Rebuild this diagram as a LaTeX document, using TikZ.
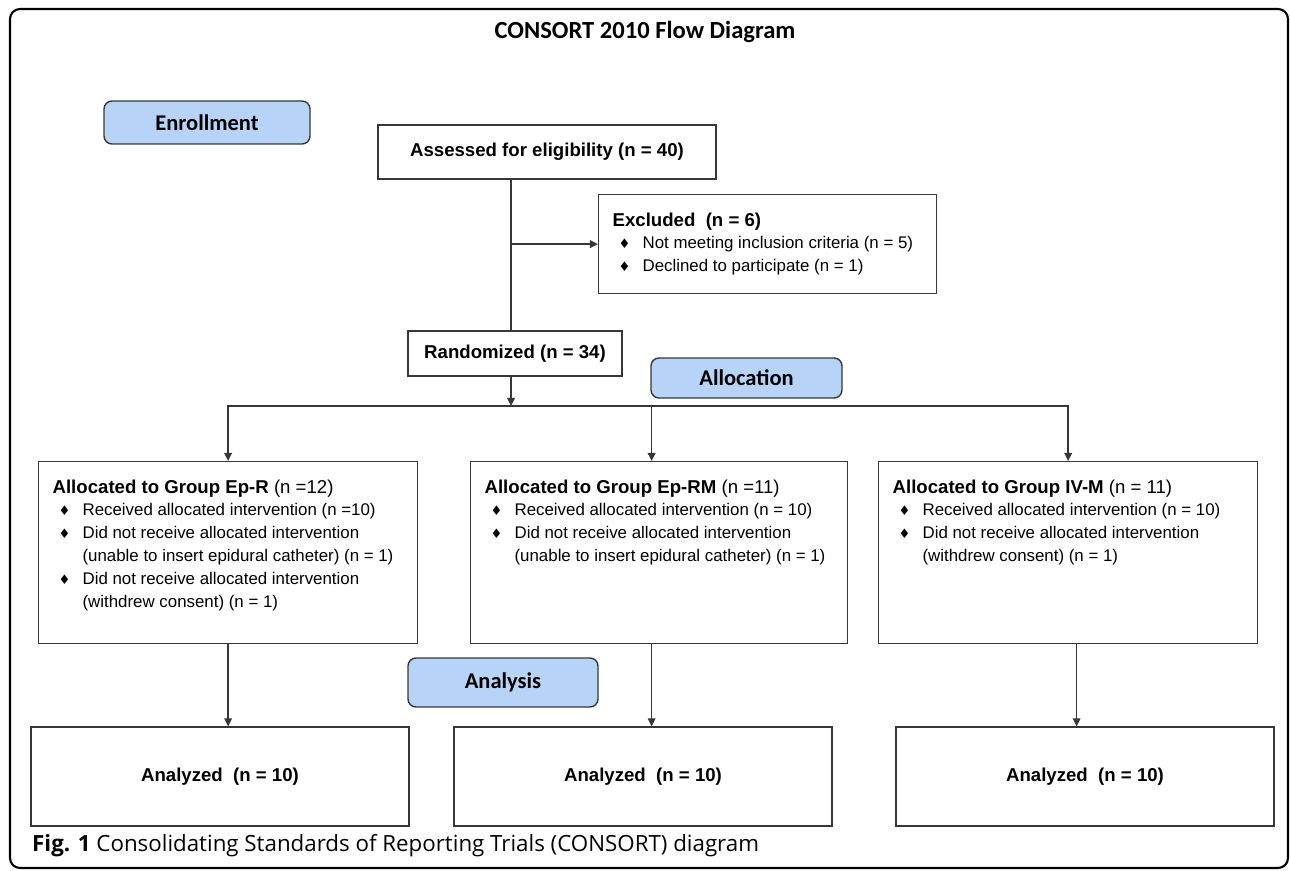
\documentclass[tikz,border=0pt]{standalone}
\usepackage{fontspec}
\setmainfont{Liberation Sans}
\newfontfamily\phasefont{Carlito}
\newfontfamily\capfont{Open Sans}
\newfontfamily\symfont{DejaVu Sans}
\usetikzlibrary{arrows.meta}

\newlength\px
\setlength\px{0.02cm}
\definecolor{phaseblue}{RGB}{184,211,248}
\definecolor{boxline}{RGB}{55,55,55}

% bullet line with hanging indent
\newcommand\itm{\par\hangindent=30\px\hangafter=1\noindent\hspace*{6\px}\makebox[24\px][l]{\symfont\fontsize{7.5}{7.5}\selectfont\char"2666}}
\newcommand\headsize{\fontsize{10.6}{13}\selectfont}
\newcommand\boxtext[3]{\parbox[c][#2][t]{#1}{\raggedright\leftskip=14\px\fontsize{9.6}{13}\selectfont\vspace*{10.2pt}#3}}

\begin{document}
\begin{tikzpicture}[
  x=0.02cm, y=-0.02cm,
  phase/.style={draw=boxline, fill=phaseblue, rounded corners=0.16cm, line width=0.8pt, inner sep=0pt,
    font=\phasefont\bfseries\fontsize{12.8}{14}\selectfont},
  plainbox/.style={draw=boxline, line width=0.7pt, inner sep=0pt, font=\bfseries\headsize},
  listbox/.style={draw=boxline, line width=0.7pt, inner sep=0pt, anchor=north west},
  arrow/.style={-{Triangle[length=4.6pt,width=4.4pt]}, draw=boxline, line width=0.75pt},
  link/.style={draw=boxline, line width=0.75pt}
]
\useasboundingbox (0,0) rectangle (1290,871);
\draw[line width=1.2pt, rounded corners=0.2cm] (10,9) rectangle (1288,868);

\node[font=\phasefont\bfseries\fontsize{14}{16}\selectfont] (title) at (645,32) {CONSORT 2010 Flow Diagram};

% phase labels
\node[phase, minimum width=206\px, minimum height=43\px] (enroll) at (207,122.5) {Enrollment};
\node[phase, minimum width=191\px, minimum height=40\px] (alloc) at (746.5,378) {Allocation};
\node[phase, minimum width=190\px, minimum height=49\px] (analysis) at (503,682.5) {Analysis};

% enrollment
\node[plainbox, minimum width=338\px, minimum height=54\px] (assess) at (547,152) {Assessed for eligibility (n = 40)};
\node[listbox] (excl) at (598,194) {\boxtext{338\px}{99\px}{\noindent{\headsize\bfseries Excluded~ (n = 6)}
  \itm Not meeting inclusion criteria (n = 5)
  \itm Declined to participate (n = 1)}};
\node[plainbox, minimum width=214\px, minimum height=45\px] (rand) at (515,353.5) {Randomized (n = 34)};
\coordinate (split) at (511,406);

% allocation
\node[listbox] (grpA) at (38,461) {\boxtext{379\px}{182\px}{\noindent{\headsize\textbf{Allocated to Group Ep-R} (n =12)}
  \itm Received allocated intervention (n =10)
  \itm Did not receive allocated intervention\newline (unable to insert epidural catheter) (n = 1)
  \itm Did not receive allocated intervention\newline (withdrew consent) (n = 1)}};
\node[listbox] (grpB) at (470,461) {\boxtext{377\px}{182\px}{\noindent{\headsize\textbf{Allocated to Group Ep-RM} (n =11)}
  \itm Received allocated intervention (n = 10)
  \itm Did not receive allocated intervention\newline (unable to insert epidural catheter) (n = 1)}};
\node[listbox] (grpC) at (878,461) {\boxtext{379\px}{182\px}{\noindent{\headsize\textbf{Allocated to Group IV-M} (n = 11)}
  \itm Received allocated intervention (n = 10)
  \itm Did not receive allocated intervention\newline (withdrew consent) (n = 1)}};

% analysis
\node[plainbox, minimum width=378\px, minimum height=99\px] (anaA) at (220,776.5) {Analyzed~ (n = 10)};
\node[plainbox, minimum width=378\px, minimum height=99\px] (anaB) at (643,776.5) {Analyzed~ (n = 10)};
\node[plainbox, minimum width=378\px, minimum height=99\px] (anaC) at (1085,776.5) {Analyzed~ (n = 10)};

\node[anchor=west, font=\capfont\fontsize{12.7}{14}\selectfont] (caption) at (26,846) {\textbf{Fig. 1} Consolidating Standards of Reporting Trials (CONSORT) diagram};

% connectors
\draw[link] (split |- assess.south) -- (split |- rand.north);
\draw[arrow] (split |- excl.west) -- (excl.west);
\draw[arrow] (split |- rand.south) -- (split);
\draw[arrow] (split) -| (grpA.north);
\draw[arrow] (split) -| ([xshift=-7.5\px]grpB.north);
\draw[arrow] (split) -| (grpC.north);
\draw[arrow] (grpA.south) -- (grpA.south |- anaA.north);
\draw[arrow] ([xshift=-7.5\px]grpB.south) -- ([xshift=-7.5\px]grpB.south |- anaB.north);
\draw[arrow] ([xshift=8.5\px]grpC.south) -- ([xshift=8.5\px]grpC.south |- anaC.north);
\end{tikzpicture}
\end{document}
